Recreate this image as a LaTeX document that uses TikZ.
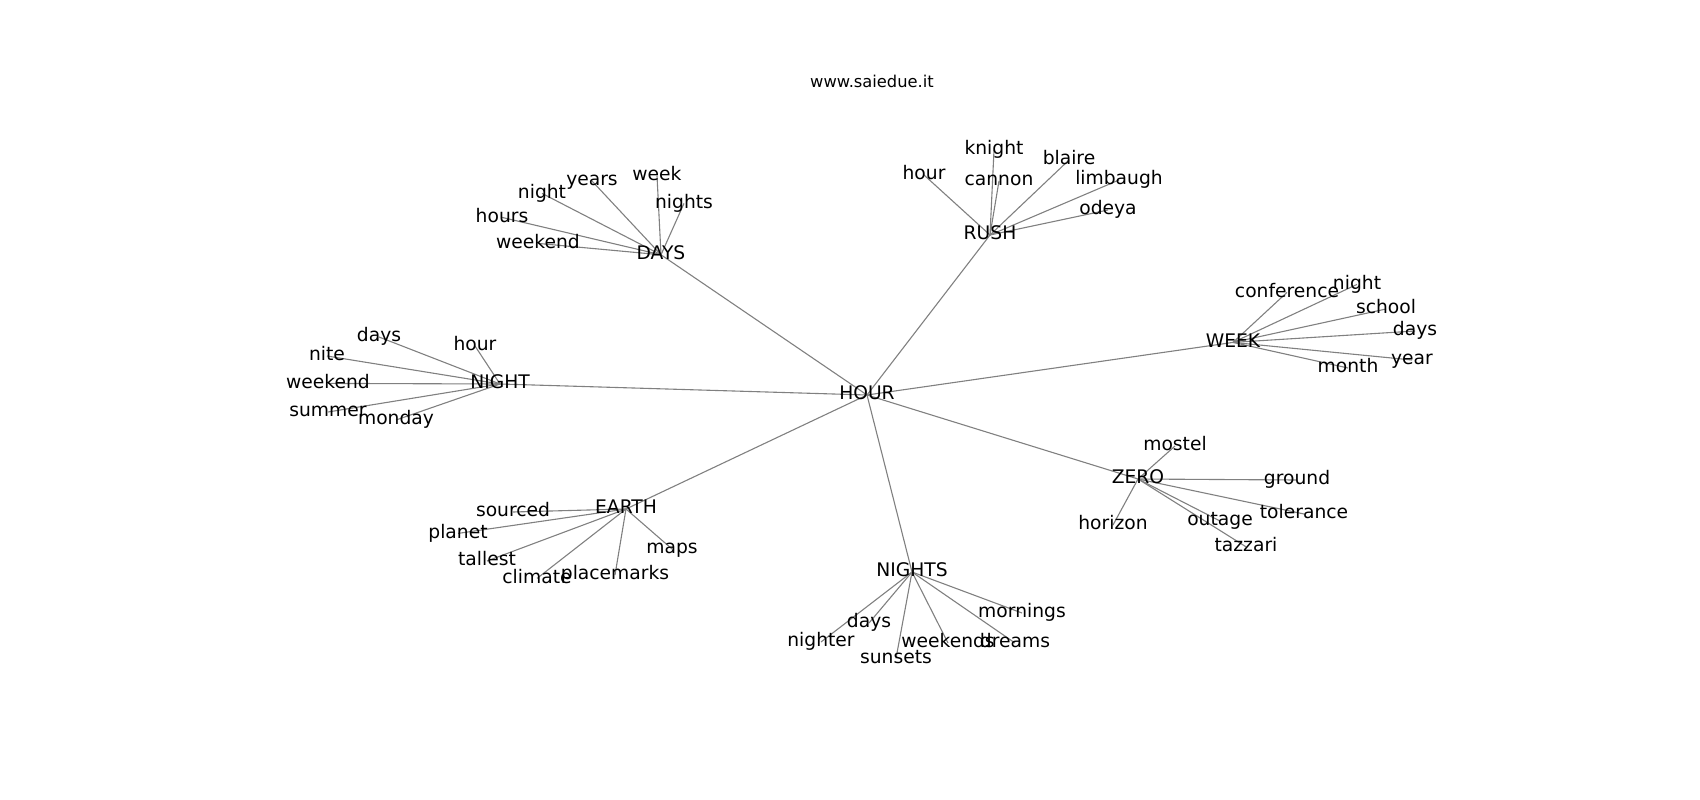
\documentclass[tikz,border=0pt]{standalone}
\usepackage{fontspec}
\setmainfont{DejaVu Sans}
\usetikzlibrary{backgrounds}
\begin{document}
\begin{tikzpicture}[x=1pt,y=-1pt,
  lab/.style={inner sep=0pt,text height=14.2pt,text depth=4.5pt,anchor=center,text=black,font=\fontsize{18.7}{22}\selectfont},
  ttl/.style={inner sep=0pt,anchor=base,text=black,font=\fontsize{16.3}{19}\selectfont},
  edge/.style={draw=black!50,line width=1.1pt}]
\useasboundingbox (0,0) rectangle (1700,800);
\node[ttl] (title) at (872,87.3) {www.saiedue.it};
% hubs
\node[lab] (HOUR) at (867,395) {HOUR};
\node[lab] (DAYS) at (661,254.8) {DAYS};
\node[lab] (RUSH) at (990,235) {RUSH};
\node[lab] (WEEK) at (1233,342.4) {WEEK};
\node[lab] (NIGHT) at (500,384) {NIGHT};
\node[lab] (EARTH) at (626,509) {EARTH};
\node[lab] (NIGHTS) at (912,572) {NIGHTS};
\node[lab] (ZERO) at (1138,479) {ZERO};
% DAYS
\node[lab] (d1) at (657,175.8) {week};
\node[lab] (d2) at (592,181) {years};
\node[lab] (d3) at (542,193.4) {night};
\node[lab] (d4) at (684,203.4) {nights};
\node[lab] (d5) at (502,217.4) {hours};
\node[lab] (d6) at (538,243.4) {weekend};
% RUSH
\node[lab] (r1) at (994,150) {knight};
\node[lab] (r2) at (924,175) {hour};
\node[lab] (r3) at (999,181) {cannon};
\node[lab] (r4) at (1069,160) {blaire};
\node[lab] (r5) at (1119,180) {limbaugh};
\node[lab] (r6) at (1108,210) {odeya};
% WEEK
\node[lab] (w1) at (1287,292.4) {conference};
\node[lab] (w2) at (1357,284.4) {night};
\node[lab] (w3) at (1386,309) {school};
\node[lab] (w4) at (1415,331) {days};
\node[lab] (w5) at (1412,360) {year};
\node[lab] (w6) at (1348,368) {month};
% NIGHT
\node[lab] (n1) at (379,337) {days};
\node[lab] (n2) at (475,346) {hour};
\node[lab] (n3) at (327,356) {nite};
\node[lab] (n4) at (328,383.4) {weekend};
\node[lab] (n5) at (328,412) {summer};
\node[lab] (n6) at (396,420) {monday};
% EARTH
\node[lab] (e1) at (513,512) {sourced};
\node[lab] (e2) at (458,533.4) {planet};
\node[lab] (e3) at (672,549) {maps};
\node[lab] (e4) at (487,561) {tallest};
\node[lab] (e5) at (537,578.4) {climate};
\node[lab] (e6) at (615,575) {placemarks};
% NIGHTS
\node[lab] (s1) at (1022,613) {mornings};
\node[lab] (s2) at (869,623) {days};
\node[lab] (s3) at (821,642) {nighter};
\node[lab] (s4) at (948,643) {weekends};
\node[lab] (s5) at (1015,643) {dreams};
\node[lab] (s6) at (896,658.4) {sunsets};
% ZERO
\node[lab] (z1) at (1175,446) {mostel};
\node[lab] (z2) at (1297,480) {ground};
\node[lab] (z3) at (1304,514) {tolerance};
\node[lab] (z4) at (1113,525) {horizon};
\node[lab] (z5) at (1220,521) {outage};
\node[lab] (z6) at (1246,546.8) {tazzari};
\begin{scope}[on background layer]
\foreach \h in {DAYS,RUSH,WEEK,NIGHT,EARTH,NIGHTS,ZERO}
  \draw[edge] (HOUR.center) -- (\h.center);
\foreach \p/\c in {d/DAYS,r/RUSH,w/WEEK,n/NIGHT,e/EARTH,s/NIGHTS,z/ZERO}
  \foreach \i in {1,...,6}
    \draw[edge] (\c.center) -- (\p\i.center);
\end{scope}
\end{tikzpicture}
\end{document}
